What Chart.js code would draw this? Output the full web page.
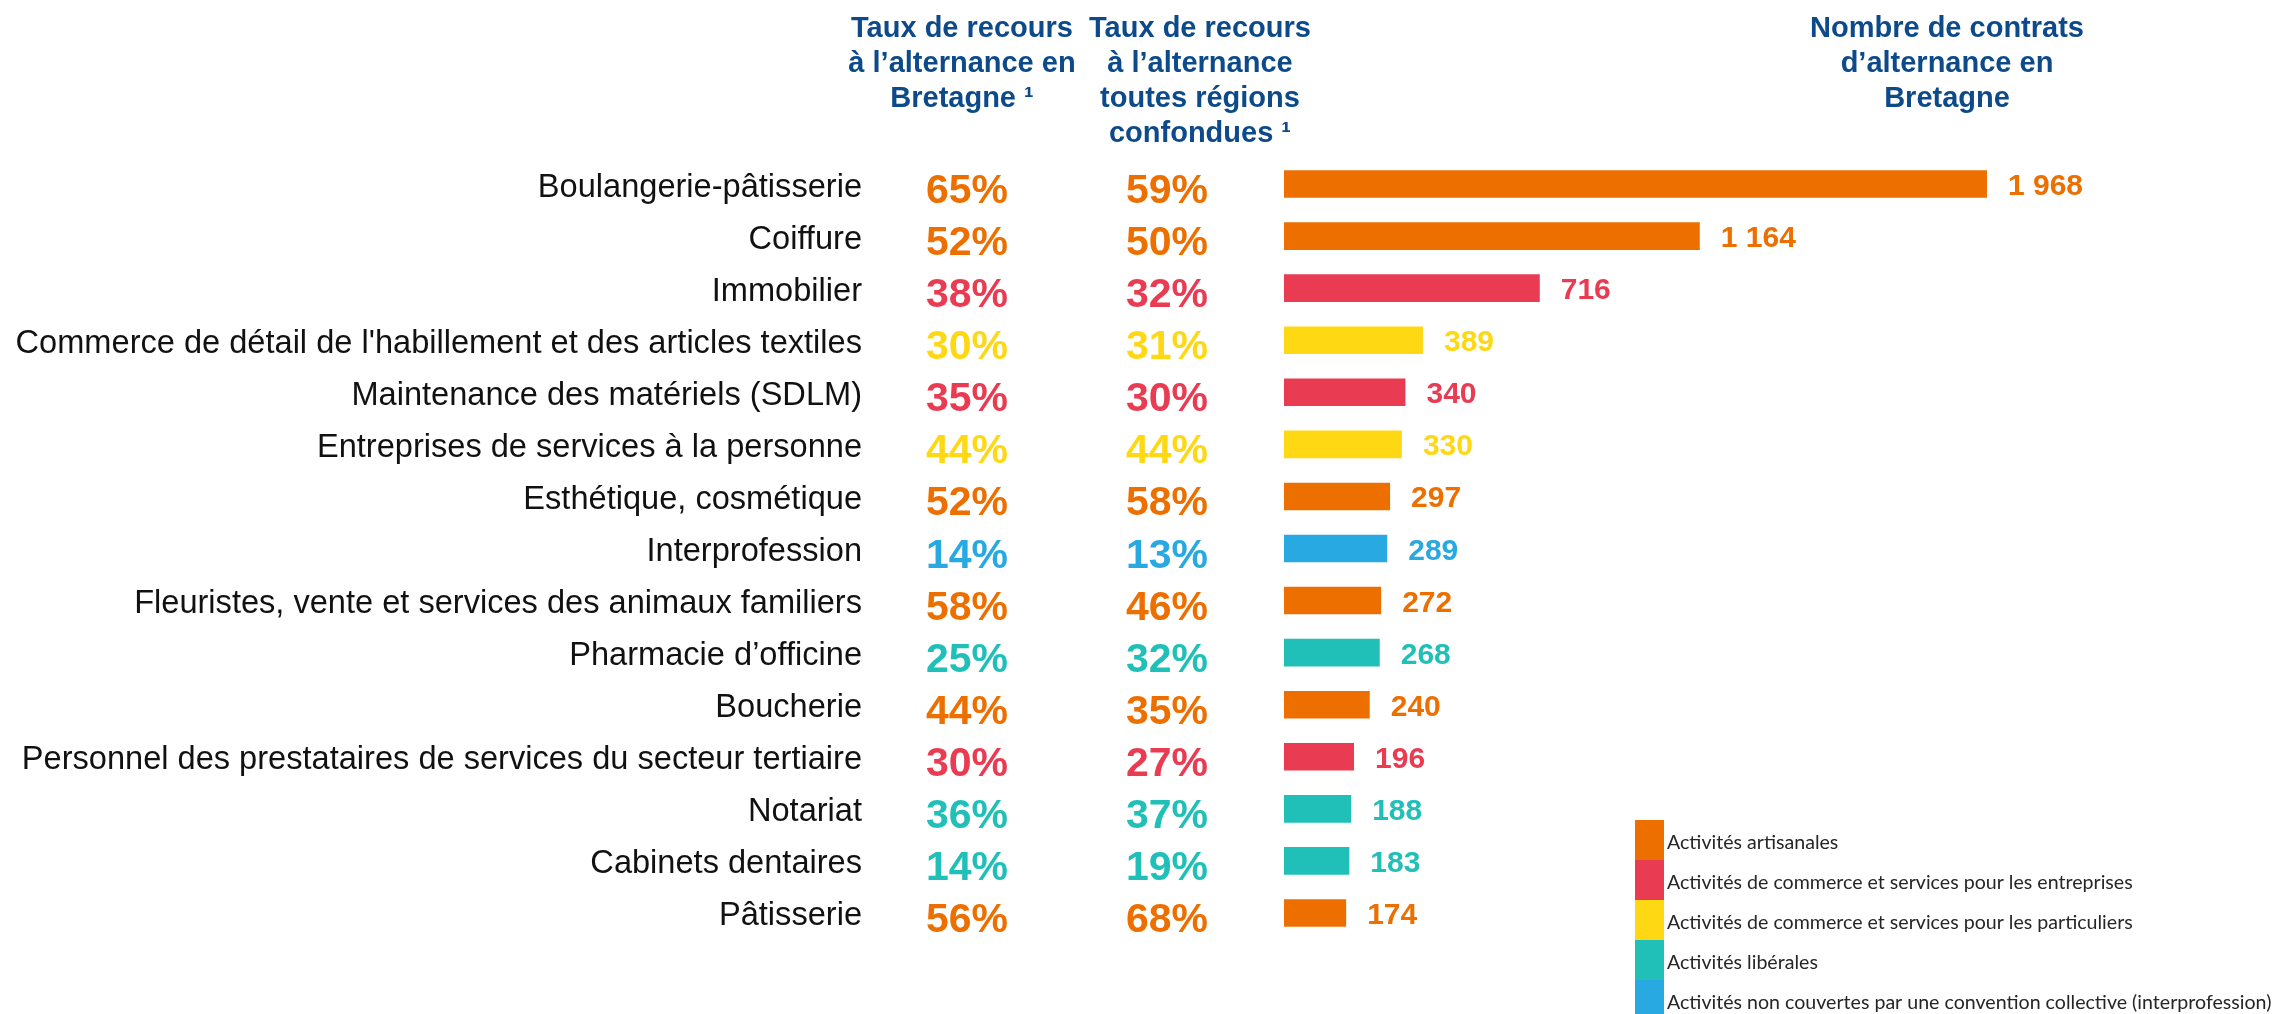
<!DOCTYPE html>
<html lang="fr">
<head>
<meta charset="utf-8">
<title>Alternance en Bretagne</title>
<script src="https://cdn.jsdelivr.net/npm/chart.js@4"></script>
<style>
  html, body { margin: 0; padding: 0; background: #fff; }
  #chart { display: block; }
</style>
</head>
<body>
<canvas id="chart" width="2280" height="1014"></canvas>
<script>
// Données
const categories = [
    'Boulangerie-pâtisserie',
    'Coiffure',
    'Immobilier',
    "Commerce de détail de l'habillement et des articles textiles",
    'Maintenance des matériels (SDLM)',
    'Entreprises de services à la personne',
    'Esthétique, cosmétique',
    'Interprofession',
    'Fleuristes, vente et services des animaux familiers',
    'Pharmacie d’officine',
    'Boucherie',
    'Personnel des prestataires de services du secteur tertiaire',
    'Notariat',
    'Cabinets dentaires',
    'Pâtisserie'
];
const tauxBretagne = [65, 52, 38, 30, 35, 44, 52, 14, 58, 25, 44, 30, 36, 14, 56];
const tauxToutesRegions = [59, 50, 32, 31, 30, 44, 58, 13, 46, 32, 35, 27, 37, 19, 68];
const contrats = [1968, 1164, 716, 389, 340, 330, 297, 289, 272, 268, 240, 196, 188, 183, 174];
// famille de chaque branche (index dans familles)
const familleIdx = [0, 0, 1, 2, 1, 2, 0, 4, 0, 3, 0, 1, 3, 3, 0];
const familles = [
    'Activités artisanales',
    'Activités de commerce et services pour les entreprises',
    'Activités de commerce et services pour les particuliers',
    'Activités libérales',
    'Activités non couvertes par une convention collective (interprofession)'
];
const couleurs = ['#ec6f00', '#e93b52', '#ffd814', '#20c0b8', '#28a9e1'];

const entetes = [
    { x: 962, lignes: ['Taux de recours', 'à l’alternance en', 'Bretagne ¹'] },
    { x: 1200, lignes: ['Taux de recours', 'à l’alternance', 'toutes régions', 'confondues ¹'] },
    { x: 1947, lignes: ['Nombre de contrats', 'd’alternance en', 'Bretagne'] }
];

const BLEU = '#0d4a8a';
const ARIAL = '"Liberation Sans", Arial, sans-serif';

function formatNombre(n) {
    return n.toString().replace(/\B(?=(\d{3})+(?!\d))/g, ' ');
}

// Libellés, colonnes de pourcentages, étiquettes, en-têtes et légende
const habillage = {
    id: 'habillage',
    afterDatasetsDraw(chart) {
        const ctx = chart.ctx;
        const xs = chart.scales.x;
        const ys = chart.scales.y;
        ctx.save();
        ctx.textBaseline = 'alphabetic';

        categories.forEach((cat, i) => {
            const yc = ys.getPixelForValue(i);
            const col = couleurs[familleIdx[i]];

            ctx.fillStyle = '#111';
            ctx.textAlign = 'right';
            ctx.font = '32.6px ' + ARIAL;
            ctx.fillText(cat, 862, yc + 12.5);

            ctx.fillStyle = col;
            ctx.textAlign = 'center';
            ctx.font = 'bold 41px ' + ARIAL;
            ctx.fillText(tauxBretagne[i] + '%', 967, yc + 19);
            ctx.fillText(tauxToutesRegions[i] + '%', 1167, yc + 19);

            ctx.textAlign = 'left';
            ctx.font = 'bold 30px ' + ARIAL;
            ctx.fillText(formatNombre(contrats[i]), xs.getPixelForValue(contrats[i]) + 21, yc + 11);
        });

        // en-têtes
        ctx.fillStyle = BLEU;
        ctx.font = 'bold 29px ' + ARIAL;
        ctx.textAlign = 'center';
        entetes.forEach(e => {
            e.lignes.forEach((l, k) => ctx.fillText(l, e.x, 37 + k * 35));
        });

        // légende
        ctx.textAlign = 'left';
        ctx.font = '19.6px Lato, "Open Sans", sans-serif';
        familles.forEach((f, k) => {
            const top = 820 + k * 40;
            ctx.fillStyle = couleurs[k];
            ctx.fillRect(1635, top, 29, 40);
            ctx.fillStyle = '#262626';
            ctx.fillText(f, 1667, top + 29);
        });

        ctx.restore();
    }
};

const ctx = document.getElementById('chart').getContext('2d');
new Chart(ctx, {
    type: 'bar',
    data: {
        labels: categories,
        datasets: [{
            data: contrats,
            backgroundColor: familleIdx.map(k => couleurs[k]),
            borderWidth: 0,
            barPercentage: 0.53,
            categoryPercentage: 1
        }]
    },
    options: {
        indexAxis: 'y',
        responsive: false,
        animation: false,
        layout: {
            padding: { left: 1284, right: 103, top: 158, bottom: 75 }
        },
        plugins: {
            legend: { display: false },
            tooltip: { enabled: false }
        },
        scales: {
            x: {
                display: false,
                min: 0,
                max: 2500
            },
            y: {
                display: false
            }
        }
    },
    plugins: [habillage]
});
</script>
</body>
</html>
